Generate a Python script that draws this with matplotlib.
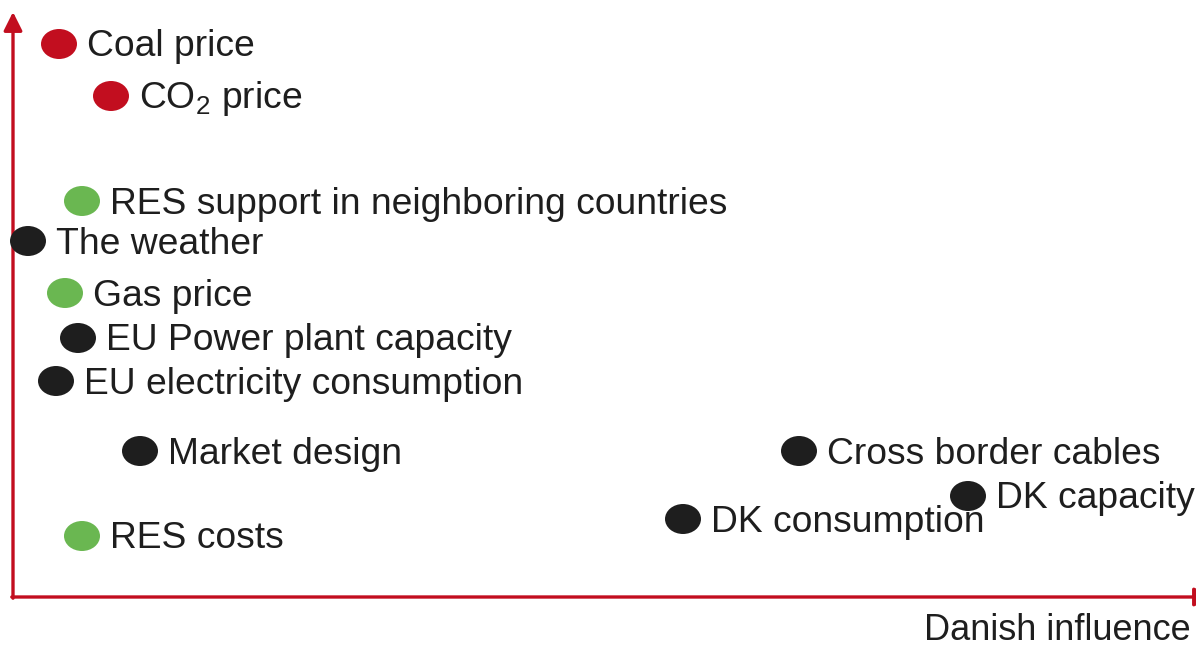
import matplotlib.pyplot as plt
from matplotlib.patches import Ellipse

plt.rcParams['font.family'] = ['Liberation Sans', 'DejaVu Sans']
plt.rcParams['mathtext.fontset'] = 'custom'
plt.rcParams['mathtext.rm'] = 'Liberation Sans'

# positions (x = Danish influence, y = impact), in axis units
labels = ['Coal price', 'CO$_\\mathregular{2}$ price', 'RES support in neighboring countries',
          'The weather', 'Gas price', 'EU Power plant capacity', 'EU electricity consumption',
          'Market design', 'RES costs', 'Cross border cables', 'DK capacity', 'DK consumption']
influence = [46, 98, 69, 15, 52, 65, 43, 127, 69, 786, 955, 670]
impact = [553, 501, 396, 356, 304, 259, 216, 146, 61, 146, 101, 78]
groups = ['red', 'red', 'green', 'black', 'green', 'black', 'black',
          'black', 'green', 'black', 'black', 'black']

colors = {'red': '#C20E1F', 'green': '#6AB751', 'black': '#1E1E1E'}
axis_red = '#C20E1F'

fig = plt.figure(figsize=(11.96, 6.49), dpi=100)
ax = fig.add_axes([0, 0, 1, 1])
ax.set_xlim(-13, 1183)
ax.set_ylim(-52, 597)
ax.axis('off')

# axes arrows (the x arrow head runs off the right edge like in the original)
ax.annotate('', xy=(0, 585), xytext=(0, -1.2), annotation_clip=False,
            arrowprops=dict(arrowstyle='-|>', color=axis_red, lw=2.4,
                            mutation_scale=28, shrinkA=0, shrinkB=0))
ax.annotate('', xy=(1200, 0), xytext=(-1.2, 0), annotation_clip=False,
            arrowprops=dict(arrowstyle='-|>', color=axis_red, lw=2.4,
                            mutation_scale=28, shrinkA=0, shrinkB=0))

for lab, x, y, g in zip(labels, influence, impact, groups):
    ax.add_patch(Ellipse((x, y), 36, 30, facecolor=colors[g], edgecolor='none', zorder=3))
    ax.text(x + 28, y - 3, lab, fontsize=26.8, color='#1E1E1E', va='center', ha='left')

ax.text(1178, -34, 'Danish influence', fontsize=26, color='#1E1E1E', va='center', ha='right')

fig.savefig('out.png', dpi=100)
